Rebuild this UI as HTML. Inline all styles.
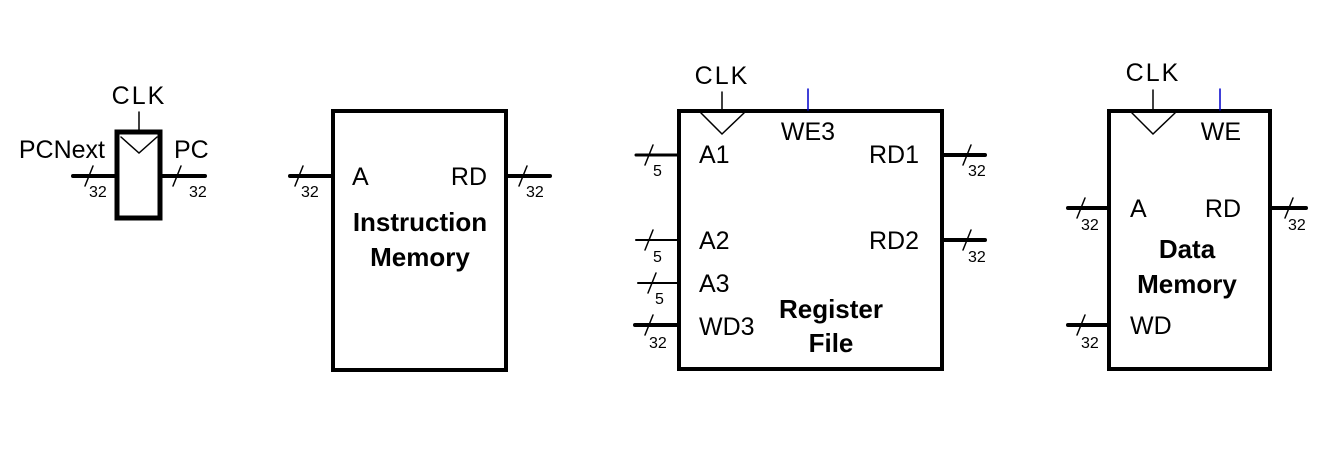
<!DOCTYPE html>
<html><head><style>
html,body{margin:0;padding:0;background:#fff;}
svg{display:block;}
text{font-family:"Liberation Sans",Arial,sans-serif;fill:#000;}
.l{font-size:25px;}
.s{font-size:16px;}
.b{font-size:26px;font-weight:bold;}
</style></head><body>
<svg width="1337" height="458" viewBox="0 0 1337 458" xmlns="http://www.w3.org/2000/svg">
<g stroke="#000" fill="none" stroke-linecap="round">
<rect x="117" y="132" width="43" height="86" stroke-width="5"/>
<polyline points="121,137 139,153 157,137" stroke-width="1.5"/>
<line x1="139" y1="112" x2="139" y2="131" stroke-width="1.5"/>
<line x1="73" y1="176" x2="116" y2="176" stroke-width="4"/>
<line x1="162" y1="176" x2="205" y2="176" stroke-width="4"/>
<rect x="333" y="111" width="173" height="259" stroke-width="4"/>
<line x1="290" y1="176" x2="332" y2="176" stroke-width="4"/>
<line x1="508" y1="176" x2="550" y2="176" stroke-width="4"/>
<rect x="679" y="111" width="263" height="258" stroke-width="4"/>
<line x1="722" y1="92" x2="722" y2="110" stroke-width="1.5"/>
<polyline points="701,113 722,134 744,113" stroke-width="1.5"/>
<line x1="808" y1="89" x2="808" y2="110" stroke="#0000cc" stroke-width="1.5"/>
<line x1="636" y1="155" x2="678" y2="155" stroke-width="3"/>
<line x1="636" y1="240" x2="678" y2="240" stroke-width="2"/>
<line x1="638" y1="283" x2="680" y2="283" stroke-width="2"/>
<line x1="635" y1="325" x2="678" y2="325" stroke-width="4"/>
<line x1="943" y1="155" x2="985" y2="155" stroke-width="4"/>
<line x1="943" y1="240" x2="985" y2="240" stroke-width="4"/>
<rect x="1109" y="111" width="161" height="258" stroke-width="4"/>
<line x1="1153" y1="90" x2="1153" y2="110" stroke-width="1.5"/>
<polyline points="1132,113 1153,134 1175,113" stroke-width="1.5"/>
<line x1="1220" y1="89" x2="1220" y2="110" stroke="#0000cc" stroke-width="1.5"/>
<line x1="1068" y1="208" x2="1108" y2="208" stroke-width="4"/>
<line x1="1271" y1="208" x2="1306" y2="208" stroke-width="4"/>
<line x1="1068" y1="325" x2="1108" y2="325" stroke-width="4"/>
<g stroke-width="1.5">
<line x1="85" y1="186" x2="93" y2="166"/>
<line x1="173" y1="186" x2="181" y2="166"/>
<line x1="295" y1="186" x2="303" y2="166"/>
<line x1="519" y1="186" x2="527" y2="166"/>
<line x1="645" y1="165" x2="653" y2="145"/>
<line x1="645" y1="250" x2="653" y2="230"/>
<line x1="648" y1="293" x2="656" y2="273"/>
<line x1="645" y1="335" x2="653" y2="315"/>
<line x1="963" y1="165" x2="971" y2="145"/>
<line x1="963" y1="250" x2="971" y2="230"/>
<line x1="1077" y1="218" x2="1085" y2="198"/>
<line x1="1285" y1="218" x2="1293" y2="198"/>
<line x1="1077" y1="335" x2="1085" y2="315"/>
</g>
</g>
<text class="l" x="139" y="104" text-anchor="middle" letter-spacing="2">CLK</text>
<text class="l" x="105" y="158" text-anchor="end">PCNext</text>
<text class="l" x="174" y="158">PC</text>
<text class="s" x="89" y="197">32</text>
<text class="s" x="189" y="197">32</text>
<text class="l" x="352" y="185">A</text>
<text class="l" x="487" y="185" text-anchor="end">RD</text>
<text class="s" x="301" y="197">32</text>
<text class="s" x="526" y="197">32</text>
<text class="b" x="420" y="231" text-anchor="middle">Instruction</text>
<text class="b" x="420" y="266" text-anchor="middle">Memory</text>

<text class="l" x="722" y="84" text-anchor="middle" letter-spacing="2">CLK</text>
<text class="l" x="808" y="140" text-anchor="middle">WE3</text>
<text class="l" x="699" y="163">A1</text>
<text class="l" x="919" y="163" text-anchor="end">RD1</text>
<text class="l" x="699" y="249">A2</text>
<text class="l" x="919" y="249" text-anchor="end">RD2</text>
<text class="l" x="699" y="292">A3</text>
<text class="l" x="699" y="335">WD3</text>
<text class="s" x="653" y="176">5</text>
<text class="s" x="653" y="262">5</text>
<text class="s" x="655" y="304">5</text>
<text class="s" x="649" y="348">32</text>
<text class="s" x="968" y="176">32</text>
<text class="s" x="968" y="262">32</text>
<text class="b" x="831" y="318" text-anchor="middle">Register</text>
<text class="b" x="831" y="352" text-anchor="middle">File</text>

<text class="l" x="1153" y="81" text-anchor="middle" letter-spacing="2">CLK</text>
<text class="l" x="1241" y="140" text-anchor="end">WE</text>
<text class="l" x="1130" y="217">A</text>
<text class="l" x="1241" y="217" text-anchor="end">RD</text>
<text class="l" x="1130" y="334">WD</text>
<text class="s" x="1081" y="230">32</text>
<text class="s" x="1288" y="230">32</text>
<text class="s" x="1081" y="348">32</text>
<text class="b" x="1187" y="258" text-anchor="middle">Data</text>
<text class="b" x="1187" y="293" text-anchor="middle">Memory</text>
</svg>
</body></html>
